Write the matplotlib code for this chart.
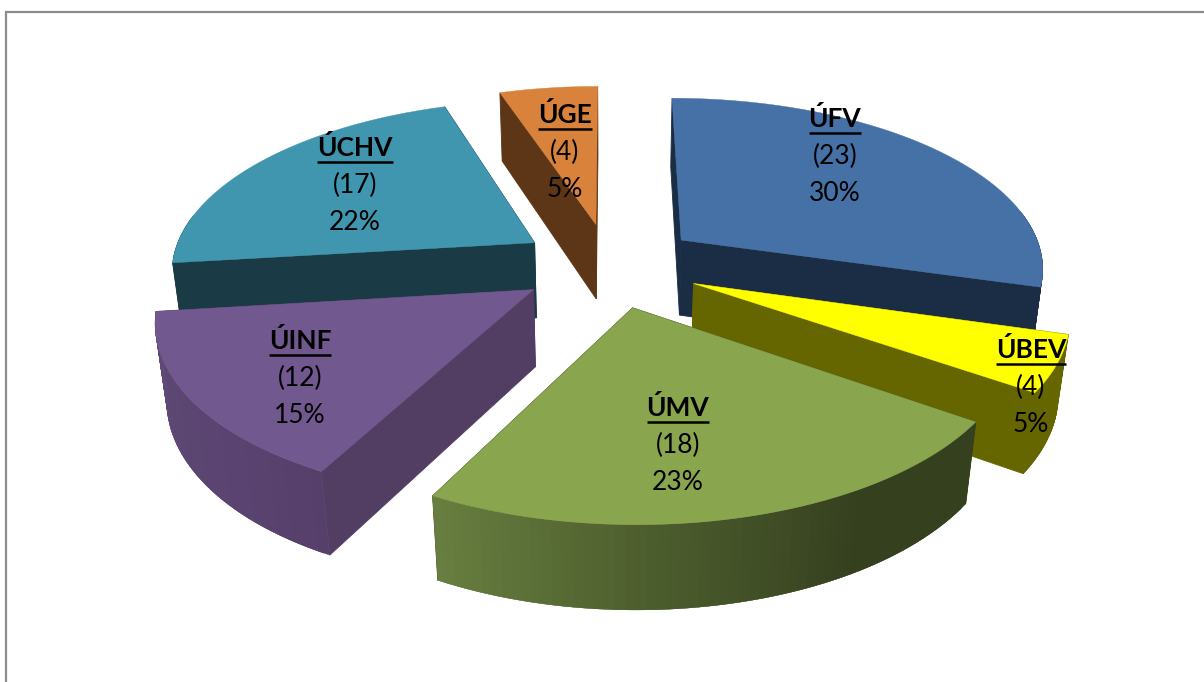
import numpy as np
import matplotlib
matplotlib.use("Agg")
import matplotlib.pyplot as plt
from matplotlib.colors import to_rgb

# ---- data ----
labels = ["ÚFV", "ÚBEV", "ÚMV", "ÚINF", "ÚCHV", "ÚGE"]
counts = [23, 4, 18, 12, 17, 4]
percent_labels = ["30%", "5%", "23%", "15%", "22%", "5%"]

# ---- styles ----
top_colors = ["#4571A7", "#FFFF00", "#89A54E", "#71588F", "#4096AE", "#D9823B"]
wall_colors = ["#1B2D45", "#666600", "#35401F", "#523D63", "#1A3B46", "#5C3617"]
outer_stops = [("#1B2D45", "#1B2D45", "#1B2D45", "#1B2D45"),
               ("#666600", "#666600", "#666600", "#666600"),
               ("#35401F", "#35401F", "#4D5E2D", "#687F40"),
               ("#56406A", "#5A4370", "#5C4672", "#5F4A78"),
               ("#1A3B46", "#1A3B46", "#1A3B46", "#1A3B46"),
               ("#5C3617", "#5C3617", "#5C3617", "#5C3617")]
stop_pos = [0.0, 0.3, 0.65, 1.0]
text_centers = [(835, 156), (1031, 387), (678, 445), (300, 378), (355, 185), (565, 152)]
paint_order = [5, 4, 0, 3, 1, 2]

# ---- projection ----
CX, CY, RX, RY = 610.0, 265.0, 364.0, 170.0
K, M, DZ, EXPLODE = 0.15, 0.025, 78.0, 0.25


def project(x, y, z=0.0):
    d = 1 + K * np.asarray(y) + M * z
    return CX + RX * np.asarray(x) / d, CY - (RY * np.asarray(y) - DZ * z) / d


fig = plt.figure(figsize=(12.04, 6.82), dpi=100, facecolor="white")
ax = fig.add_axes([0, 0, 1, 1])
ax.set_xlim(0, 1204)
ax.set_ylim(682, 0)
ax.axis("off")

ax.plot([6, 6, 1204], [682, 12, 12], color="#8C8C8C", lw=1.6, solid_joinstyle="miter")

total = sum(counts)
edges = np.concatenate([[0], np.cumsum(counts)]) / total * 2 * np.pi


def poly(xs, ys, color, z, lw=0.4):
    ax.fill(xs, ys, facecolor=color, edgecolor=color if lw else "none", linewidth=lw, zorder=z)


for order, i in enumerate(paint_order):
    a0, a1 = edges[i], edges[i + 1]
    mid = (a0 + a1) / 2
    ex, ey = EXPLODE * np.sin(mid), EXPLODE * np.cos(mid)
    th = np.linspace(a0, a1, 121)
    wx, wy = ex + np.sin(th), ey + np.cos(th)
    base = 2 + order * 4
    # radial walls
    for a in (a0, a1):
        rx = np.array([ex, ex + np.sin(a)])
        ry = np.array([ey, ey + np.cos(a)])
        px, py = project(rx, ry, 0)
        qx, qy = project(rx, ry, 1)
        poly([px[0], px[1], qx[1], qx[0]], [py[0], py[1], qy[1], qy[0]], wall_colors[i], base, lw=0.6)
    # outer wall: only the part facing the viewer, shaded band by band with overlap
    tx, ty = project(wx, wy, 0)
    bx, by = project(wx, wy, 1)
    stops = np.array([to_rgb(c) for c in outer_stops[i]])
    step = 2
    for j in range(0, len(th) - 1, step):
        if np.cos(th[j]) > 0.15 and np.cos(th[min(j + step, len(th) - 1)]) > 0.15:
            continue
        t = (j + step / 2) / (len(th) - 1)
        c = tuple(np.interp(t, stop_pos, stops[:, k]) for k in range(3))
        e = j + step + 3
        poly(np.r_[tx[j:e], bx[j:e][::-1]], np.r_[ty[j:e], by[j:e][::-1]], c, base + 1, lw=0.2)
    # top
    ax_, ay_ = project(np.array([ex]), np.array([ey]), 0)
    poly(np.r_[ax_, tx], np.r_[ay_, ty], top_colors[i], base + 2, lw=0.3)

FONT = "Lato"
SIZE = 19
GAP = 37.5
fig.canvas.draw()
rend = fig.canvas.get_renderer()
inv = ax.transData.inverted()
for i, (x, y) in enumerate(text_centers):
    head = ax.text(x, y - GAP, labels[i], ha="center", va="center", family=FONT, size=SIZE,
                   weight="bold", color="black", zorder=60)
    ax.text(x, y, f"({counts[i]})", ha="center", va="center", family=FONT, size=SIZE, color="black", zorder=60)
    ax.text(x, y + GAP, percent_labels[i], ha="center", va="center", family=FONT, size=SIZE, color="black", zorder=60)
    bb = head.get_window_extent(rend).transformed(inv)
    ax.plot([bb.x0, bb.x1], [y - GAP + 14, y - GAP + 14], color="black", lw=1.8, zorder=60,
            solid_capstyle="butt")

fig.savefig("out.png", dpi=100, facecolor="white")
